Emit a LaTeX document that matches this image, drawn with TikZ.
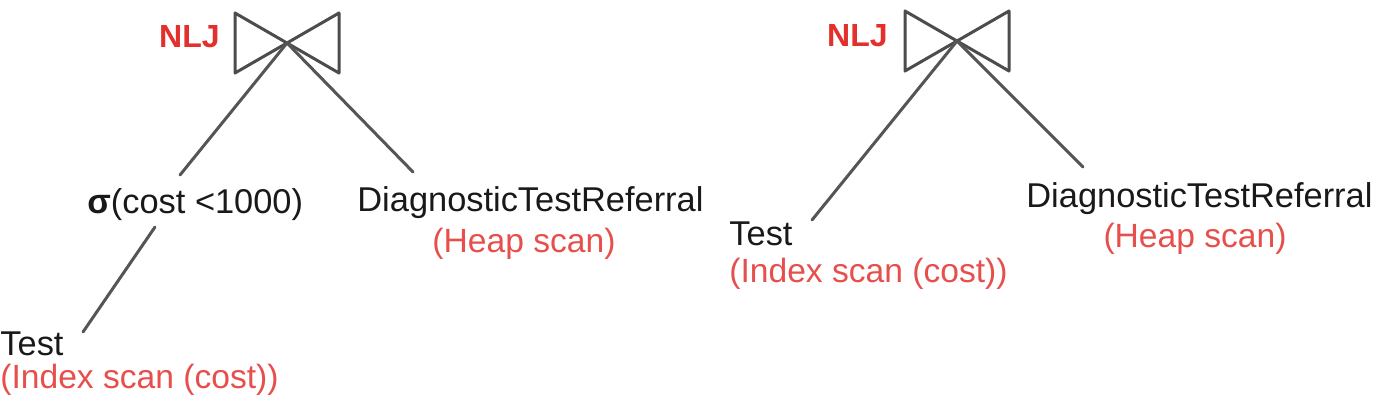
\documentclass[tikz,border=0pt]{standalone}
\usepackage{fontspec}
\setmainfont{Liberation Sans}
\usetikzlibrary{calc}

\definecolor{opred}{RGB}{226,48,44}
\definecolor{edgegray}{RGB}{85,85,85}

\tikzset{
  rel/.style={inner sep=0pt, text=black!90, font=\fontsize{17.2}{20}\selectfont},
  scan/.style={inner sep=0pt, text=opred!85, font=\fontsize{16.8}{20}\selectfont},
  op/.style={inner sep=0pt, text=opred, font=\fontsize{16}{19}\selectfont\bfseries},
  bowtie/.style={draw=edgegray!90!black, line width=1.5pt, line join=round},
  tree/.style={draw=edgegray, line width=1.5pt, line cap=round}
}

\begin{document}
\begin{tikzpicture}[x=0.5pt, y=-0.5pt]
  \useasboundingbox (0,0) rectangle (1376,408);

  % plan with selection
  \coordinate (j1) at (287,43);
  \node[op, anchor=base east] (nlj1) at (220,47) {NLJ};
  \node[rel, anchor=base west] (sel) at (87,213) {\textbf{σ}(cost <1000)};
  \node[rel, anchor=base west] (dtr1) at (357,211) {DiagnosticTestReferral};
  \node[scan, anchor=base] (hs1) at (524,252) {(Heap scan)};
  \node[rel, anchor=base west] (test1) at (0,355) {Test};
  \node[scan, anchor=base west] (is1) at (0,388) {(Index scan (cost))};

  \draw[bowtie] (j1) -- ++(-52,-30) -- ++(0,60) -- cycle;
  \draw[bowtie] (j1) -- ++(52,-30) -- ++(0,60) -- cycle;
  \path[tree]
    (j1) edge ($(sel.base west)+(93,-38)$)
    (j1) edge ($(dtr1.base west)+(56,-39)$)
    ($(sel.base west)+(68,14)$) edge ($(test1.base west)+(83,-23)$);

  % plan with index scan
  \coordinate (j2) at (957,41);
  \node[op, anchor=base east] (nlj2) at (888,46) {NLJ};
  \node[rel, anchor=base west] (test2) at (729,245) {Test};
  \node[scan, anchor=base west] (is2) at (729,282) {(Index scan (cost))};
  \node[rel, anchor=base west] (dtr2) at (1026,207) {DiagnosticTestReferral};
  \node[scan, anchor=base] (hs2) at (1195,247) {(Heap scan)};

  \draw[bowtie] (j2) -- ++(-52,-30) -- ++(0,60) -- cycle;
  \draw[bowtie] (j2) -- ++(52,-30) -- ++(0,60) -- cycle;
  \path[tree]
    (j2) edge ($(test2.base west)+(83,-25)$)
    (j2) edge ($(dtr2.base west)+(57,-40)$);
\end{tikzpicture}
\end{document}
